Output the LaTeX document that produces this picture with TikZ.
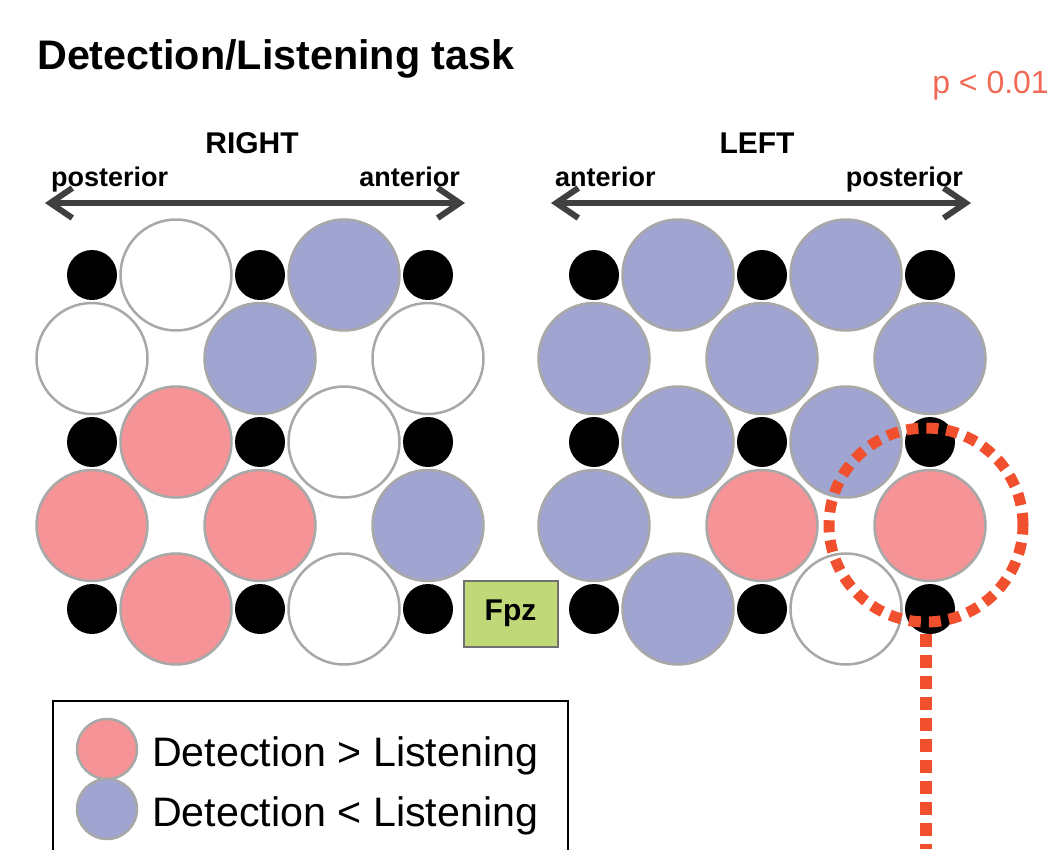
\documentclass[tikz,border=0pt]{standalone}
\usepackage{fontspec}
\setmainfont{Liberation Sans}
\usetikzlibrary{arrows.meta}
\definecolor{pnkc}{RGB}{245,147,150}
\definecolor{bluc}{RGB}{160,164,208}
\definecolor{rimc}{RGB}{168,168,168}
\definecolor{axc}{RGB}{64,64,64}
\definecolor{sigc}{RGB}{240,80,45}
\definecolor{pc}{RGB}{240,105,85}
\definecolor{fpzc}{RGB}{192,216,120}
\definecolor{fpzb}{RGB}{112,112,112}
\begin{document}
\begin{tikzpicture}[x=1pt,y=-1pt,
  big/.style={circle,inner sep=0pt,minimum size=111pt,draw=rimc,line width=2.5pt},
  blk/.style={circle,inner sep=0pt,minimum size=50pt,fill=black},
  wht/.style={big,fill=white},
  pnk/.style={big,fill=pnkc},
  blu/.style={big,fill=bluc},
  lgc/.style={circle,inner sep=0pt,minimum size=60pt,draw=rimc,line width=2.5pt},
  axis/.style={draw=axc,line width=6pt,{Straight Barb[length=22pt,width=30pt]}-{Straight Barb[length=22pt,width=30pt]}},
  lbl/.style={inner sep=0pt,font=\fontsize{27}{32}\selectfont\bfseries},
  side/.style={inner sep=0pt,font=\fontsize{30}{36}\selectfont\bfseries},
  leg/.style={inner sep=0pt,anchor=base west,font=\fontsize{41.2}{48}\selectfont}
]
\useasboundingbox (0,0) rectangle (1052,849);
\clip (0,0) rectangle (1052,849);

% title
\node[inner sep=0pt,anchor=base west,font=\fontsize{41.3}{48}\selectfont\bfseries] (title) at (37,69) {Detection/Listening task};
\node[inner sep=0pt,anchor=base east,font=\fontsize{32}{38}\selectfont,text=pc] (pval) at (1049,93) {p < 0.01};

% headers
\node[side,anchor=base] (rh) at (252,153) {RIGHT};
\node[side,anchor=base] (lh) at (757,153) {LEFT};
\node[lbl,anchor=base west] (rpost) at (51,186) {posterior};
\node[lbl,anchor=base east] (rant) at (460,186) {anterior};
\node[lbl,anchor=base west] (lant) at (555,186) {anterior};
\node[lbl,anchor=base east] (lpost) at (963,186) {posterior};

\coordinate (ra1) at (45,203);
\coordinate (ra2) at (465,203);
\coordinate (la1) at (551,203);
\coordinate (la2) at (971,203);
\draw[axis] (ra1) -- (ra2);
\draw[axis] (la1) -- (la2);

% RIGHT array
\foreach \n/\x/\y/\s in {
  ra/92/275/blk, rb/176/275/wht, rc/260/275/blk, rd/344/275/blu, re/428/275/blk,
  rf/92/358.5/wht, rg/260/358.5/blu, rh2/428/358.5/wht,
  ri/92/442/blk, rj/176/442/pnk, rk/260/442/blk, rl/344/442/wht, rm/428/442/blk,
  rn/92/525.5/pnk, ro/260/525.5/pnk, rp/428/525.5/blu,
  rq/92/609/blk, rr/176/609/pnk, rs/260/609/blk, rt/344/609/wht, ru/428/609/blk}
  \node[\s] (\n) at (\x,\y) {};

% LEFT array
\foreach \n/\x/\y/\s in {
  la/594/275/blk, lb/678/275/blu, lc/762/275/blk, ld/846/275/blu, le/930/275/blk,
  lf/594/358.5/blu, lg/762/358.5/blu, lh2/930/358.5/blu,
  li/594/442/blk, lj/678/442/blu, lk/762/442/blk, ll/846/442/blu, lm/930/442/blk,
  ln/594/525.5/blu, lo/762/525.5/pnk, lp/930/525.5/pnk,
  lq/594/609/blk, lr/678/609/blu, ls/762/609/blk, lt/846/609/wht, lu/930/609/blk}
  \node[\s] (\n) at (\x,\y) {};

% Fpz
\node[draw=fpzb,fill=fpzc,line width=2pt,minimum width=94pt,minimum height=66pt,inner sep=0pt,font=\fontsize{30}{36}\selectfont\bfseries] (fpz) at (510.5,613.5) {Fpz};

% significance marker
\node[circle,inner sep=0pt,minimum size=194pt,draw=sigc,line width=11pt,dash pattern=on 12pt off 8pt] (sig) at (926,525) {};
\coordinate (sigend) at (926,849);
\draw[draw=sigc,line width=12pt,dash pattern=on 13pt off 8pt] ([yshift=-6pt]sig.south) -- (sigend);

% legend
\node[draw=black,line width=2pt,minimum width=515pt,minimum height=200pt,inner sep=0pt,anchor=north west] (legend) at (52,700) {};
\node[lgc,fill=pnkc] (lgp) at (107,749) {};
\node[lgc,fill=bluc] (lgb) at (107,809) {};
\node[leg] (lgpt) at (152,766) {Detection > Listening};
\node[leg] (lgbt) at (152,826) {Detection < Listening};
\end{tikzpicture}
\end{document}
